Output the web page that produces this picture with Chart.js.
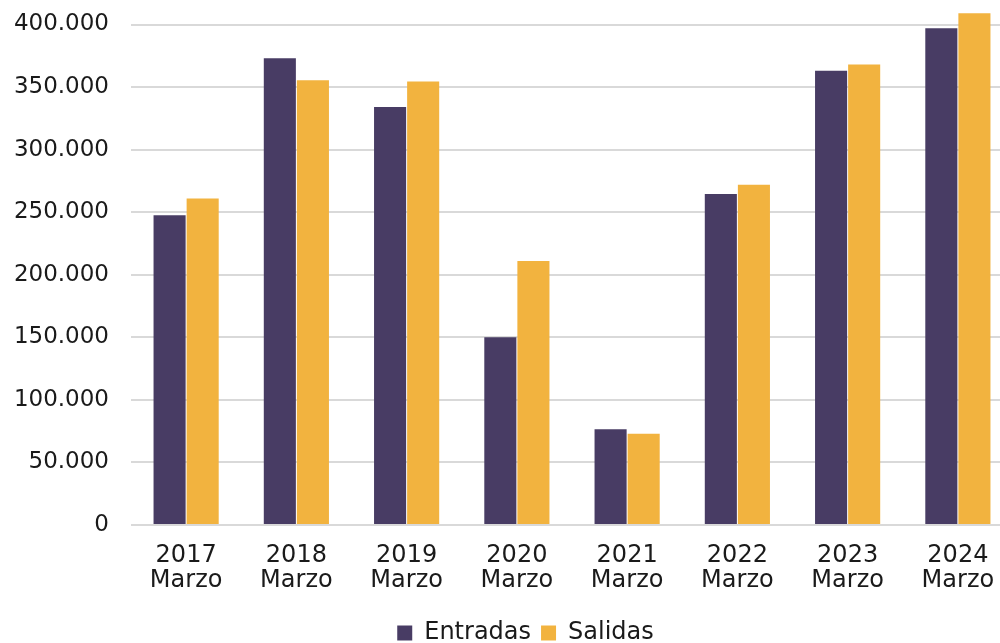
<!DOCTYPE html>
<html>
<head>
<meta charset="utf-8">
<script src="https://cdn.jsdelivr.net/npm/chart.js@4"></script>
<style>
  html, body { margin:0; padding:0; background:#fff; overflow:hidden; }
  #wrap { width:1000px; height:643px; overflow:hidden; position:relative; }
  canvas { position:absolute; left:0; top:0; }
</style>
</head>
<body>
<div id="wrap"><canvas id="chart" width="1060" height="655"></canvas></div>
<script>
// data
var years = ['2017','2018','2019','2020','2021','2022','2023','2024'];
var month = 'Marzo';
var entradas = [247500, 373000, 334000, 150000, 76500, 264500, 363000, 397000];
var salidas  = [261000, 355500, 354500, 211000, 73000, 272000, 368000, 409000];
var yTicks = [0, 50000, 100000, 150000, 200000, 250000, 300000, 350000, 400000];
var yMax = 410000;

var labels = years.map(function(y){ return [y, month]; });
var font = 'DejaVu Sans';

function miles(v){
  return String(v).replace(/\B(?=(\d{3})+(?!\d))/g, '.');
}

// legend sits a bit right of the canvas middle in the original
var shiftLegend = {
  id: 'shiftLegend',
  afterLayout: function(chart){
    chart.legend.left += 19;
    chart.legend.right += 19;
  }
};

new Chart(document.getElementById('chart'), {
  type: 'bar',
  data: {
    labels: labels,
    datasets: [
      { label: 'Entradas', data: entradas, backgroundColor: '#483C64',
        categoryPercentage: 0.6, barPercentage: 0.97 },
      { label: 'Salidas', data: salidas, backgroundColor: '#F2B33F',
        categoryPercentage: 0.6, barPercentage: 0.97 }
    ]
  },
  plugins: [shiftLegend],
  options: {
    responsive: false,
    devicePixelRatio: 1,
    animation: false,
    layout: { padding: { top: 12, left: 0, right: 47, bottom: 0 } },
    plugins: {
      legend: {
        position: 'bottom',
        labels: { boxWidth: 15, boxHeight: 15, font: { family: font, size: 24 }, color: '#1a1a1a', padding: 10 }
      },
      tooltip: { enabled: false }
    },
    scales: {
      x: {
        grid: { display: false },
        border: { display: false },
        ticks: { font: { family: font, size: 24, lineHeight: 1.02 }, color: '#1a1a1a', padding: 11, maxRotation: 0 },
        afterFit: function(s){ s.height = 86; s.paddingLeft = 0; s.paddingRight = 0; }
      },
      y: {
        min: 0,
        max: yMax,
        grid: { color: '#d9d9d9', lineWidth: 2, drawTicks: false },
        border: { display: false },
        ticks: {
          font: { family: font, size: 23 },
          color: '#1a1a1a',
          padding: 22,
          callback: function(v){ return miles(v); }
        },
        afterBuildTicks: function(s){ s.ticks = yTicks.map(function(v){ return { value: v }; }); },
        afterFit: function(s){ s.width = 131; s.paddingTop = 0; s.paddingBottom = 0; }
      }
    }
  }
});
</script>
</body>
</html>
